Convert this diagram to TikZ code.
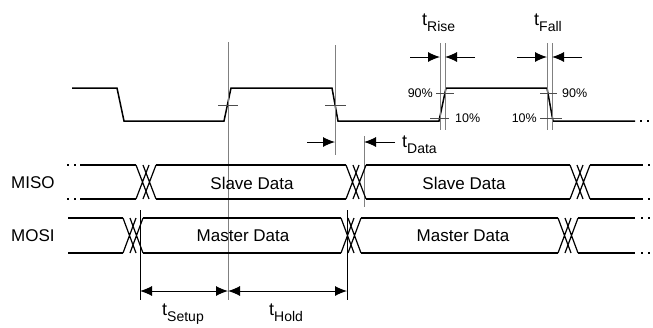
\documentclass[tikz,border=0pt]{standalone}
\usepackage{fontspec}
\setmainfont{Liberation Sans}
\usetikzlibrary{arrows.meta}
\newcommand\tsub[1]{t\raisebox{-6pt}{\fontsize{14}{14}\selectfont #1}}
\newcommand\xcross[3]{%
  \draw[bus] (#1,#2) -- ({#1+13},#3) (#1,#3) -- ({#1+13},#2)
             ({#1+7},#2) -- ({#1+20},#3) ({#1+7},#3) -- ({#1+20},#2);}
\begin{document}
\begin{tikzpicture}[x=1pt,y=-1pt,
  sig/.style={line width=1.5pt, line join=miter},
  bus/.style={line width=1.2pt},
  guide/.style={gray, line width=0.9pt},
  refl/.style={black, line width=0.9pt},
  tick/.style={black!70, line width=0.7pt},
  arr/.style={-{Latex[length=12pt,width=10pt]}, line width=1pt},
  darr/.style={{Latex[length=12pt,width=10pt]}-{Latex[length=12pt,width=10pt]}, line width=1pt},
  dots/.style={line width=1.2pt, dash pattern=on 2pt off 5pt},
  lbl/.style={font=\fontsize{17}{20}\selectfont, inner sep=0pt},
  tlbl/.style={font=\fontsize{18}{20}\selectfont, inner sep=0pt, anchor=base west},
  pct/.style={font=\fontsize{12.5}{14}\selectfont, inner sep=0pt},
]
\useasboundingbox (0,0) rectangle (653,327);

% ---------- clock waveform ----------
\draw[sig] (72,88) -- (117,88) -- (124,121) -- (224,121) -- (231,88) -- (332,88)
  -- (338,121) -- (439,121) -- (446,88) -- (547,88) -- (553,121) -- (635,121);
\draw[dots] (640,121) -- (653,121);

% ---------- guide lines ----------
\coordinate (g1t) at (228,42);  \coordinate (g1b) at (228,300);
\coordinate (g2t) at (335,45);  \coordinate (g2b) at (335,155);
\coordinate (g3t) at (440,43);  \coordinate (g3b) at (440,130);
\coordinate (g4t) at (445,43);  \coordinate (g4b) at (445,130);
\coordinate (g5t) at (547,43);  \coordinate (g5b) at (547,130);
\coordinate (g6t) at (552,43);  \coordinate (g6b) at (552,130);
\coordinate (g7t) at (364,136); \coordinate (g7b) at (364,207);
\coordinate (s1t) at (140,210); \coordinate (s1b) at (140,300);
\coordinate (h1t) at (347,210); \coordinate (h1b) at (347,300);
\foreach \a/\b in {g1t/g1b,g2t/g2b,g3t/g3b,g4t/g4b,g5t/g5b,g6t/g6b,g7t/g7b}
  \draw[guide] (\a) -- (\b);
\draw[refl] (s1t) -- (s1b);
\draw[refl] (h1t) -- (h1b);

% ---------- threshold ticks ----------
\draw[tick] (218,105) -- (238,105);
\draw[tick] (325,105) -- (346,105);
\draw[tick] (436,93) -- (454,93);
\draw[tick] (430,118) -- (449,118);
\draw[tick] (540,93) -- (557,93);
\draw[tick] (540,118) -- (562,118);

\node[pct, anchor=east] (p90a) at (433,93) {90\%};
\node[pct, anchor=west] (p10a) at (455,118) {10\%};
\node[pct, anchor=west] (p90b) at (562,93) {90\%};
\node[pct, anchor=east] (p10b) at (537,118) {10\%};

% ---------- timing arrows ----------
\coordinate (ra) at (410,57); \coordinate (rb) at (440,57);
\coordinate (rc) at (475,57); \coordinate (rd) at (445,57);
\coordinate (fa) at (517,57); \coordinate (fb) at (547,57);
\coordinate (fc) at (582,57); \coordinate (fd) at (552,57);
\coordinate (da) at (307,142); \coordinate (db) at (335,142);
\coordinate (dc) at (395,142); \coordinate (dd) at (364,142);
\coordinate (sa) at (140,291); \coordinate (sb) at (228,291);
\coordinate (hb) at (347,291);
\draw[arr] (ra) -- (rb);
\draw[arr] (rc) -- (rd);
\draw[arr] (fa) -- (fb);
\draw[arr] (fc) -- (fd);
\draw[arr] (da) -- (db);
\draw[arr] (dc) -- (dd);
\draw[darr] (sa) -- (sb);
\draw[darr] (sb) -- (hb);

\node[tlbl] (trise) at (422,25) {\tsub{Rise}};
\node[tlbl] (tfall) at (534,25) {\tsub{Fall}};
\node[tlbl] (tdata) at (402,147) {\tsub{Data}};
\node[tlbl] (tsetup) at (162,315) {\tsub{Setup}};
\node[tlbl] (thold) at (269,315) {\tsub{Hold}};

% ---------- MISO bus ----------
\draw[dots] (67,165) -- (80,165);
\draw[dots] (67,199) -- (80,199);
\draw[bus] (80,165) -- (136,165) (80,199) -- (136,199);
\xcross{136}{165}{199}
\draw[bus] (156,165) -- (346,165) (156,199) -- (346,199);
\xcross{346}{165}{199}
\draw[bus] (366,165) -- (570,165) (366,199) -- (570,199);
\xcross{570}{165}{199}
\draw[bus] (590,165) -- (643,165) (590,199) -- (643,199);
\draw[dots] (648,165) -- (653,165);
\draw[dots] (648,199) -- (653,199);

% ---------- MOSI bus ----------
\draw[bus] (68,218) -- (123,218) (68,253) -- (123,253);
\xcross{123}{218}{253}
\draw[bus] (143,218) -- (341,218) (143,253) -- (341,253);
\xcross{341}{218}{253}
\draw[bus] (361,218) -- (558,218) (361,253) -- (558,253);
\xcross{558}{218}{253}
\draw[bus] (578,218) -- (635,218) (578,253) -- (635,253);
\draw[dots] (641,218) -- (653,218);
\draw[dots] (641,253) -- (653,253);

% ---------- labels ----------
\node[lbl, anchor=west] (miso) at (11,183) {MISO};
\node[lbl, anchor=west] (mosi) at (11,236) {MOSI};
\node[lbl] (sd1) at (252,183) {Slave Data};
\node[lbl] (sd2) at (464,183) {Slave Data};
\node[lbl] (md1) at (243,236) {Master Data};
\node[lbl] (md2) at (463,236) {Master Data};
\end{tikzpicture}
\end{document}
